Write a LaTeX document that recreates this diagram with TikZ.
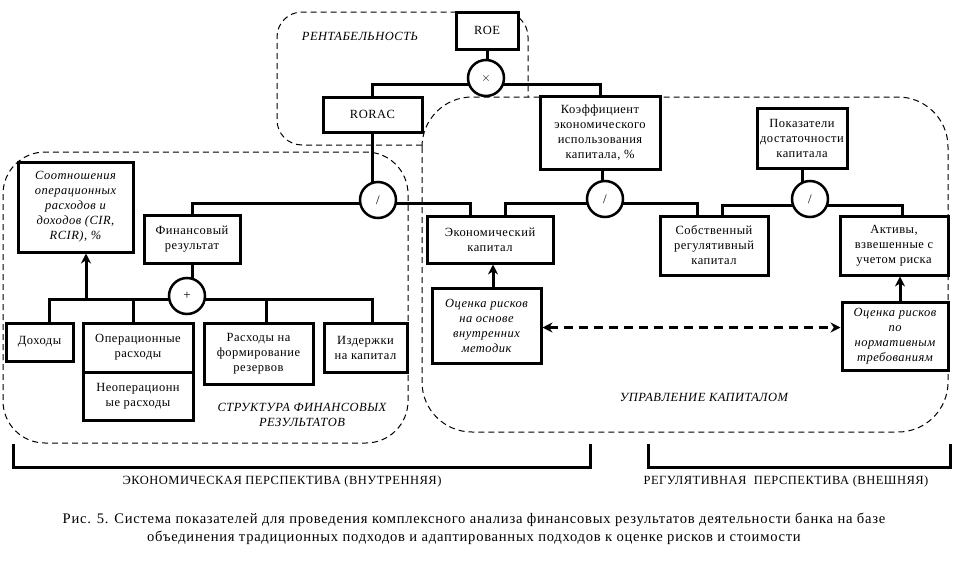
\documentclass[tikz,border=0pt]{standalone}
\usepackage{fontspec}
\setmainfont{Liberation Serif}[LetterSpace=4]
\newfontfamily\capfont{Liberation Serif}[LetterSpace=5]
\usetikzlibrary{calc,backgrounds,arrows.meta}
\begin{document}
\begin{tikzpicture}[x=1pt,y=-1pt,
 box/.style={draw, line width=3pt, fill=white, inner sep=1pt, align=center, font=\fontsize{12.5}{15}\selectfont},
 ibox/.style={box, font=\fontsize{12.5}{15}\selectfont\itshape},
 opc/.style={draw, circle, line width=2.5pt, fill=white, minimum size=36pt, inner sep=0pt, font=\fontsize{13}{15}\selectfont},
 conn/.style={line width=3pt},
 arr/.style={line width=3pt, -{Stealth[length=10pt,width=10pt]}},
 region/.style={line width=1pt, dash pattern=on 6pt off 4pt},
 lbl/.style={font=\fontsize{12.5}{15}\selectfont\itshape, align=center},
 plain/.style={font=\fontsize{12.5}{15}\selectfont, align=center},
]
\useasboundingbox (0,0) rectangle (962,565);

% nodes
\node[box, minimum width=62pt, minimum height=37pt] (roe) at (487,30.5) {ROE};
\node[opc] (mult) at (486,78) {$\times$};
\node[box, minimum width=99pt, minimum height=35pt] (rorac) at (372.5,114.5) {RORAC};
\node[box, minimum width=120pt, minimum height=73pt] (koef) at (600,132.5) {Коэффициент\\экономического\\использования\\капитала, \%};
\node[box, minimum width=90pt, minimum height=60pt] (pok) at (802,138) {Показатели\\достаточности\\капитала};
\node[opc] (div1) at (378,200) {/};
\node[opc] (div2) at (605,199) {/};
\node[opc] (div3) at (810,199) {/};
\node[ibox, minimum width=115pt, minimum height=90pt] (sootn) at (75.5,207) {Соотношения\\операционных\\расходов и\\доходов (CIR,\\RCIR), \%};
\node[box, minimum width=96pt, minimum height=48pt] (fin) at (192,239) {Финансовый\\результат};
\node[box, minimum width=126pt, minimum height=47pt] (eco) at (490,239.5) {Экономический\\капитал};
\node[box, minimum width=108pt, minimum height=59pt] (sob) at (714,245.5) {Собственный\\регулятивный\\капитал};
\node[box, minimum width=108pt, minimum height=59pt] (akt) at (894,245.5) {Активы,\\взвешенные с\\учетом риска};
\node[opc] (plus) at (187,296) {+};
\node[box, minimum width=67pt, minimum height=38pt] (doh) at (39.5,342) {Доходы};
\node[box, minimum width=110pt, minimum height=49pt] (op) at (138,347.5) {Операционные\\расходы};
\node[box, minimum width=110pt, minimum height=48pt] (neop) at (138,396) {Неоперационн\\ые расходы};
\node[box, minimum width=109pt, minimum height=61pt] (rasx) at (258.5,353.5) {Расходы на\\формирование\\резервов};
\node[box, minimum width=83pt, minimum height=49pt] (izd) at (365.5,347.5) {Издержки\\на капитал};
\node[ibox, minimum width=109pt, minimum height=75pt] (ocv) at (486.5,325.5) {Оценка рисков\\на основе\\внутренних\\методик};
\node[ibox, minimum width=106pt, minimum height=68pt] (ocn) at (895,336) {Оценка рисков\\по\\нормативным\\требованиям};

% region labels
\node[lbl] (rentlbl) at (360,36) {РЕНТАБЕЛЬНОСТЬ};
\node[lbl] (strlbl) at (302,415) {СТРУКТУРА ФИНАНСОВЫХ\\РЕЗУЛЬТАТОВ};
\node[lbl] (upr) at (704,397) {УПРАВЛЕНИЕ КАПИТАЛОМ};

\begin{pgfonlayer}{background}
 % dashed regions
 \draw[region, rounded corners=25pt] (422,145) -- (277,145) -- (277,12) -- (528,12) -- (528,97);
 \draw[region, rounded corners=50pt] (422,97) rectangle (948,432);
 \draw[region, rounded corners=42pt] (3,152) rectangle (408,443);
 % connectors
 \coordinate (m1) at ($(mult.center)+(0,6)$);
 \draw[conn] (roe.south) -- (roe.south |- mult.center);
 \draw[conn] (rorac.north) |- (m1) -| (koef.north);
 \draw[conn] (rorac.south) -- (rorac.south |- div1.center);
 \coordinate (d1) at ($(div1.center)+(0,3)$);
 \draw[conn] (fin.north) |- (d1) -| ([xshift=-20pt]eco.north);
 \draw[conn] ([xshift=2pt]koef.south) -- ([xshift=2pt]koef.south |- div2.center);
 \coordinate (d2) at ($(div2.center)+(0,4)$);
 \draw[conn] ([xshift=15pt]eco.north) |- (d2) -| ([xshift=-17pt]sob.north);
 \draw[conn] (pok.south) -- (pok.south |- div3.center);
 \coordinate (d3) at ($(div3.center)+(0,6)$);
 \draw[conn] ([xshift=8pt]sob.north) |- (d3) -| ([xshift=8pt]akt.north);
 \draw[conn] (fin.south) -- (fin.south |- plus.center);
 \coordinate (p1) at ($(plus.center)+(0,3)$);
 \draw[conn] ([xshift=9.5pt]doh.north) |- (p1) -| ([xshift=6.5pt]izd.north);
 \draw[conn] ([xshift=-5pt]op.north) -- ([xshift=-5pt]op.north |- p1);
 \draw[conn] ([xshift=7.5pt]rasx.north) -- ([xshift=7.5pt]rasx.north |- p1);
\end{pgfonlayer}

% arrows
\draw[arr] ([xshift=10.5pt]sootn.south |- p1) -- ([xshift=10.5pt]sootn.south);
\draw[arr] ([xshift=3pt]eco.south |- ocv.north) -- ([xshift=3pt]eco.south);
\draw[arr] ([xshift=5pt]ocn.north) -- ([xshift=5pt]ocn.north |- akt.south);
\draw[line width=3pt, dash pattern=on 9pt off 6pt, {Stealth[length=10pt,width=10pt]}-{Stealth[length=10pt,width=10pt]}] ([yshift=-2pt]ocv.east) -- ([yshift=-2pt]ocv.east -| ocn.west);

% brackets
\draw[line width=3pt] (13,444) -- (13,467) -- (590,467) -- (590,444);
\draw[line width=3pt] (648,444) -- (648,467) -- (950,467) -- (950,444);
\node[plain] (econ) at (282,481) {ЭКОНОМИЧЕСКАЯ ПЕРСПЕКТИВА (ВНУТРЕННЯЯ)};
\node[plain] (regul) at (786,481) {РЕГУЛЯТИВНАЯ\ \ ПЕРСПЕКТИВА (ВНЕШНЯЯ)};

% caption
\node[font=\capfont\fontsize{14.6}{18}\selectfont, align=center] (cap) at (474,529) {Рис. 5. Система показателей для проведения комплексного анализа финансовых результатов деятельности банка на базе\\объединения традиционных подходов и адаптированных подходов к оценке рисков и стоимости};
\end{tikzpicture}
\end{document}
